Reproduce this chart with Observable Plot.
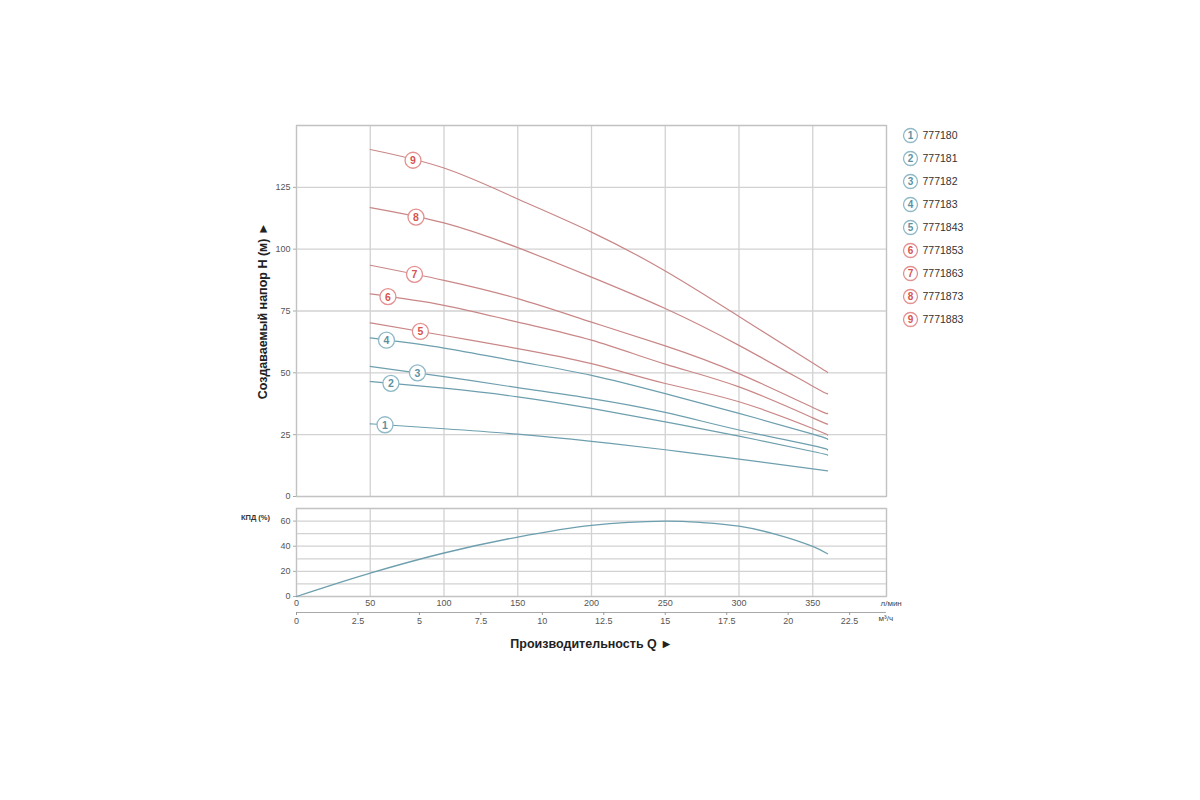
<!DOCTYPE html>
<html>
<head>
<meta charset="utf-8">
<script src="https://cdn.jsdelivr.net/npm/d3@7"></script>
<script src="https://cdn.jsdelivr.net/npm/@observablehq/plot@0.6"></script>
<style>
  html, body { margin: 0; padding: 0; background: #fff; }
  #wrap { position: relative; width: 1200px; height: 800px; background: #fff; overflow: hidden; }
  #wrap > div, #wrap > svg { position: absolute; }
</style>
</head>
<body>
<div id="wrap"></div>
<script>
// ---------- DATA ----------
const flowLpm = [50, 100, 150, 200, 250, 300, 350, 360];
const models = ["777180", "777181", "777182", "777183", "7771843", "7771853", "7771863", "7771873", "7771883"];
const modelGroup = ["blue", "blue", "blue", "blue", "blue", "red", "red", "red", "red"];
const lineGroup  = ["blue", "blue", "blue", "blue", "red", "red", "red", "red", "red"];
const head1 = [29.4, 27.4, 25.2, 22.3, 18.9, 15.1, 11.2, 10.4];
const head2 = [46.5, 43.8, 40.3, 35.6, 30.2, 24.4, 18.2, 16.7];
const head3 = [52.6, 48.5, 44.0, 39.6, 34.0, 26.9, 20.6, 18.8];
const head4 = [64.1, 60.0, 54.6, 49.0, 41.6, 33.6, 25.2, 23.1];
const head5 = [70.2, 65.1, 59.8, 53.7, 45.7, 38.3, 27.5, 24.8];
const head6 = [81.9, 77.3, 70.5, 63.2, 53.5, 44.3, 31.8, 29.3];
const head7 = [93.5, 87.4, 80.0, 70.5, 60.9, 49.7, 36.0, 33.6];
const head8 = [116.8, 110.6, 100.6, 88.7, 76.0, 61.1, 44.6, 41.6];
const head9 = [140.3, 132.8, 120.3, 106.9, 91.2, 72.8, 54.0, 50.2];
const heads = [head1, head2, head3, head4, head5, head6, head7, head8, head9];
const labelFlow = [60, 64, 82, 61, 84, 62, 80, 81, 79];

const effFlow = [0, 50, 100, 150, 200, 250, 275, 300, 325, 350, 360];
const effPct  = [0, 18.6, 34.6, 47.3, 56.6, 60.0, 58.8, 55.9, 49.5, 39.8, 34.0];

const headTicks = [0, 25, 50, 75, 100, 125];
const effTicks = [0, 20, 40, 60];
const lpmTicks = [0, 50, 100, 150, 200, 250, 300, 350];
const m3hTicks = [0, 2.5, 5, 7.5, 10, 12.5, 15, 17.5, 20, 22.5];

// ---------- STYLE ----------
const C = {
  blueLine: "#6d9fae", redLine: "#c98787",
  blueText: "#5d91a2", redText: "#d65450",
  blueRing: "#8fb9c7", redRing: "#e49090",
  grid: "#d2d2d2", frame: "#c2c2c2", tick: "#555"
};
const FONT = "'Liberation Sans', Arial, Helvetica, sans-serif";

// ---------- TABLES ----------
const curveRows = [];
heads.forEach((h, i) => flowLpm.forEach((q, j) => curveRows.push({id: i + 1, q, h: h[j], g: lineGroup[i]})));
const interp = (xs, ys, x) => {
  for (let k = 0; k < xs.length - 1; k++) {
    if (x >= xs[k] && x <= xs[k + 1]) {
      const t = (x - xs[k]) / (xs[k + 1] - xs[k]);
      return ys[k] + t * (ys[k + 1] - ys[k]);
    }
  }
  return ys[ys.length - 1];
};
const labelRows = heads.map((h, i) => ({id: i + 1, q: labelFlow[i], h: interp(flowLpm, h, labelFlow[i]), g: lineGroup[i]}));
const effRows = effFlow.map((q, i) => ({q, e: effPct[i]}));
const legendRows = models.map((m, i) => ({id: i + 1, name: m, g: modelGroup[i]}));

const lineColor = g => g === "blue" ? C.blueLine : C.redLine;
const textColor = g => g === "blue" ? C.blueText : C.redText;
const ringColor = g => g === "blue" ? C.blueRing : C.redRing;

const wrap = document.getElementById("wrap");

// ---------- TOP PANEL (head) ----------
const topPlot = Plot.plot({
  width: 1200, height: 510,
  marginLeft: 296, marginRight: 314, marginTop: 125, marginBottom: 14,
  x: {domain: [0, 400], axis: null},
  y: {domain: [0, 150], axis: null},
  style: {fontFamily: FONT, background: "transparent", overflow: "visible"},
  marks: [
    Plot.gridX(lpmTicks.concat([400]), {stroke: C.grid, strokeOpacity: 1, strokeWidth: 1.3}),
    Plot.gridY(headTicks.concat([150]), {stroke: C.grid, strokeOpacity: 1, strokeWidth: 1.3}),
    Plot.frame({stroke: C.frame, strokeWidth: 1.2}),
    Plot.axisY(headTicks, {tickSize: 3, tickPadding: 3, fontSize: 9, color: C.tick, stroke: "#aaa", label: null}),
    Plot.line(curveRows, {x: "q", y: "h", z: "id", stroke: d => lineColor(d.g), strokeWidth: 1.2, curve: "natural"}),
    Plot.dot(labelRows, {x: "q", y: "h", r: 8, fill: "white", stroke: d => ringColor(d.g), strokeWidth: 1.3}),
    Plot.text(labelRows, {x: "q", y: "h", text: d => String(d.id), fill: d => textColor(d.g), fontSize: 10.5, fontWeight: "bold", dy: 0.5}),
    Plot.text(["Создаваемый напор H (м) ►"], {frameAnchor: "left", textAnchor: "middle", dx: -34, rotate: -90, fontSize: 12.5, fontWeight: "bold", fill: "#222"})
  ]
});
topPlot.style.left = "0px";
topPlot.style.top = "0px";
wrap.appendChild(topPlot);

// ---------- BOTTOM PANEL (efficiency) ----------
const botPlot = Plot.plot({
  width: 1200, height: 170,
  marginLeft: 296, marginRight: 314, marginTop: 8, marginBottom: 74,
  x: {domain: [0, 400], axis: null},
  y: {domain: [0, 70], axis: null},
  style: {fontFamily: FONT, background: "transparent", overflow: "visible"},
  marks: [
    Plot.gridX(lpmTicks.concat([400]), {stroke: C.grid, strokeOpacity: 1, strokeWidth: 1.3}),
    Plot.gridY(d3.range(0, 71, 10), {stroke: C.grid, strokeOpacity: 1, strokeWidth: 1.3}),
    Plot.frame({stroke: C.frame, strokeWidth: 1.2}),
    Plot.axisY(effTicks, {tickSize: 3, tickPadding: 3, fontSize: 9, color: C.tick, stroke: "#aaa", label: null}),
    Plot.axisX(lpmTicks, {tickSize: 0, tickPadding: 3, fontSize: 9, color: C.tick, label: null}),
    Plot.ruleY([0], {dy: 16, stroke: "#a8a8a8", strokeWidth: 1.2}),
    Plot.axisX(m3hTicks.map(v => v * 1000 / 60), {
      tickSize: 3, tickPadding: 2, dy: 16, fontSize: 9, color: C.tick, stroke: "#999", label: null,
      tickFormat: d => String(+(d * 60 / 1000).toFixed(1))
    }),
    Plot.line(effRows, {x: "q", y: "e", stroke: C.blueLine, strokeWidth: 1.3, curve: "catmull-rom"}),
    Plot.text(["КПД (%)"], {frameAnchor: "top-left", textAnchor: "middle", dx: -41, dy: 6, fontSize: 7.5, fontWeight: "bold", fill: "#333"}),
    Plot.text(["л/мин"], {frameAnchor: "bottom-right", dx: -6, dy: 9, textAnchor: "start", fontSize: 8, fill: "#444"}),
    Plot.text(["м³/ч"], {frameAnchor: "bottom-right", dx: -8, dy: 24, textAnchor: "start", fontSize: 8, fill: "#444"}),
    Plot.text(["Производительность Q ►"], {frameAnchor: "bottom", dy: 51, fontSize: 12.5, fontWeight: "bold", fill: "#222"})
  ]
});
botPlot.style.left = "0px";
botPlot.style.top = "500px";
wrap.appendChild(botPlot);

// ---------- LEGEND ----------
const legPlot = Plot.plot({
  width: 120, height: 215,
  marginLeft: 0, marginRight: 0, marginTop: 12, marginBottom: 14,
  x: {axis: null, domain: [0, 120]},
  y: {type: "point", domain: d3.range(1, 10), axis: null, padding: 0},
  style: {fontFamily: FONT, background: "transparent", overflow: "visible"},
  marks: [
    Plot.dot(legendRows, {y: "id", frameAnchor: "left", dx: 15, r: 7, fill: "white", stroke: d => ringColor(d.g), strokeWidth: 1.3}),
    Plot.text(legendRows, {y: "id", frameAnchor: "left", textAnchor: "middle", dx: 15, text: d => String(d.id), fill: d => textColor(d.g), fontSize: 10, fontWeight: "bold", dy: 0.5}),
    Plot.text(legendRows, {y: "id", frameAnchor: "left", dx: 27, text: "name", textAnchor: "start", fill: "#333", fontSize: 10.5})
  ]
});
legPlot.style.left = "895px";
legPlot.style.top = "120px";
wrap.appendChild(legPlot);
</script>
</body>
</html>
